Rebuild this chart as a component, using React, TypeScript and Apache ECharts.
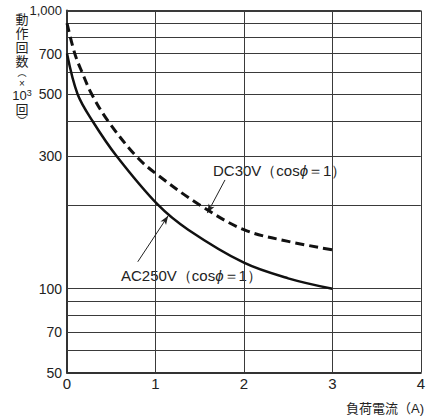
import React, { useEffect, useRef } from "react";
import * as echarts from "echarts";

const xTicks = [0, 1, 2, 3, 4];
const acX = [0, 0.12, 0.29, 0.56, 1.03, 1.37, 2, 2.5, 3];
const acY = [700, 500, 400, 300, 200, 163, 124, 109, 100];
const dcX = [0, 0.088, 0.17, 0.28, 0.465, 0.78, 1.0, 1.5, 2, 2.5, 3];
const dcY = [900, 700, 600, 500, 400, 300, 260, 200, 163, 148, 138];
const gridValues = [1000, 900, 800, 700, 600, 500, 400, 300, 200, 100, 90, 80, 70, 60];
const labeledValues = [1000, 700, 500, 300, 100, 70, 50];
const labeledTexts = ["1,000", "700", "500", "300", "100", "70", "50"];
const dcArrow = [[1.786, 246], [1.587, 187]];
const acArrow = [[0.8, 125], [1.144, 183]];

const FONT = "'Liberation Sans', Arial, Helvetica, sans-serif";
const VFONT = "'Liberation Sans', 'Noto Sans CJK JP', sans-serif";

export default function App() {
  const ref = useRef<HTMLDivElement>(null);
  useEffect(() => {
    if (!ref.current) return;
    const chart = echarts.init(ref.current, null, { renderer: "svg" });
    const lineData: any[] = gridValues.map((v) => {
      const idx = labeledValues.indexOf(v);
      return {
        yAxis: v,
        lineStyle: { color: "#3a3a3a", width: v === 1000 ? 2 : 1, type: "solid" },
        label: idx >= 0
          ? { show: true, position: "start", formatter: labeledTexts[idx], fontSize: idx === 0 ? 13 : 14, color: "#222", fontFamily: FONT, distance: 5 }
          : { show: false },
      };
    });
    lineData.push({
      yAxis: 50,
      lineStyle: { color: "#333", width: 2, type: "solid" },
      label: { show: true, position: "start", formatter: "50", fontSize: 14, color: "#222", fontFamily: FONT, distance: 5 },
    });
    const arrowStyle = { color: "#222", width: 1, type: "solid" };
    const yName = "{c|動}\n{c|作}\n{c|回}\n{c|数}\n{p|︵}\n{x|×}\n{n|10}{s|3}\n{c|回}\n{p|︶}";
    chart.setOption({
      animation: false,
      grid: { left: 67, right: 0, top: 10.5, bottom: 45.5 },
      xAxis: {
        type: "value",
        min: xTicks[0],
        max: xTicks[xTicks.length - 1],
        interval: 1,
        axisLine: { show: true, onZero: false, lineStyle: { color: "#333", width: 2 } },
        axisTick: { show: false },
        axisLabel: { fontSize: 15, color: "#222", margin: 3, fontFamily: FONT },
        splitLine: { show: true, lineStyle: { color: "#3a3a3a", width: 1 } },
      },
      yAxis: {
        type: "log",
        logBase: 10,
        min: 50,
        max: 1000,
        axisLine: { show: true, lineStyle: { color: "#333", width: 2 } },
        axisTick: { show: false },
        axisLabel: { show: false },
        splitLine: { show: false },
      },
      series: [
        {
          type: "line",
          data: acX.map((x, i) => [x, acY[i]]),
          smooth: 0.35,
          showSymbol: false,
          lineStyle: { color: "#111", width: 2.5 },
          z: 5,
          markLine: {
            silent: true,
            symbol: ["none", "none"],
            data: lineData,
            z: 1,
          },
        },
        {
          type: "line",
          data: dcX.map((x, i) => [x, dcY[i]]),
          smooth: 0.35,
          showSymbol: false,
          lineStyle: { color: "#111", width: 3, type: [9, 5] },
          z: 5,
          markLine: {
            silent: true,
            symbol: ["none", "arrow"],
            symbolSize: [5, 9],
            label: { show: false },
            data: [
              [
                { coord: dcArrow[0], lineStyle: arrowStyle },
                { coord: dcArrow[1] },
              ],
              [
                { coord: acArrow[0], lineStyle: arrowStyle },
                { coord: acArrow[1] },
              ],
            ],
            itemStyle: { color: "#222" },
          },
        },
      ],
      graphic: [
        { type: "text", left: 213, top: 163, style: { text: "DC30V（cos{i|ϕ}＝1）", rich: { i: { fontStyle: "italic", fontSize: 15, fontFamily: FONT, fill: "#222" } }, font: `15px ${FONT}`, fill: "#222" } as any },
        { type: "text", left: 121, top: 268, style: { text: "AC250V（cos{i|ϕ}＝1）", rich: { i: { fontStyle: "italic", fontSize: 15, fontFamily: FONT, fill: "#222" } }, font: `15px ${FONT}`, fill: "#222" } as any },
        {
          type: "text",
          x: 22,
          y: 12,
          style: {
            text: yName,
            align: "center",
            verticalAlign: "top",
            fill: "#222",
            font: `13px ${VFONT}`,
            rich: {
              c: { fontSize: 13, fontFamily: VFONT, lineHeight: 14, fill: "#222", align: "center" },
              p: { fontSize: 9, fontFamily: VFONT, lineHeight: 10, fill: "#222", align: "center" },
              x: { fontSize: 10, fontFamily: FONT, lineHeight: 10, fill: "#222", align: "center" },
              n: { fontSize: 13, fontFamily: FONT, lineHeight: 14, fill: "#222" },
              s: { fontSize: 9, fontFamily: FONT, lineHeight: 14, fill: "#222", verticalAlign: "top" },
            },
          },
        } as any,
        { type: "text", left: 346, top: 402, style: { text: "負荷電流（A)", font: `13px ${VFONT}`, fill: "#222" } },
      ],
    });
    return () => chart.dispose();
  }, []);
  return <div ref={ref} style={{ position: "absolute", left: 0, top: 0, width: 428, height: 418 }} />;
}
